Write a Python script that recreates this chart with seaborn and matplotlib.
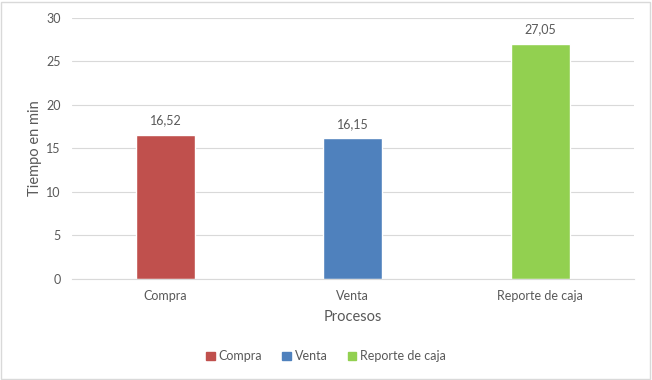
import pandas as pd
import matplotlib.pyplot as plt
import seaborn as sns
from matplotlib.patches import Rectangle

# data
procesos = ['Compra', 'Venta', 'Reporte de caja']
tiempos = [16.52, 16.15, 27.05]
colores = ['#C0504D', '#4F81BD', '#92D050']
y_ticks = [0, 5, 10, 15, 20, 25, 30]

df = pd.DataFrame({'Procesos': procesos, 'Tiempo': tiempos})

sns.set_style('white')
plt.rcParams['font.family'] = ['Lato', 'DejaVu Sans']
gris = '#595959'

fig = plt.figure(figsize=(6.52, 3.8), dpi=100)
ax = fig.add_axes([0.110, 0.266, 0.862, 0.687])

sns.barplot(data=df, x='Procesos', y='Tiempo', hue='Procesos',
            palette=colores, saturation=1, width=0.315, dodge=False,
            legend=False, ax=ax)

# labels on top of bars, comma decimal
for i, v in enumerate(tiempos):
    ax.text(i, v + 1.0, f'{v:.2f}'.replace('.', ','), ha='center', va='bottom',
            fontsize=9, color=gris)

ax.set_ylim(0, 30)
ax.set_yticks(y_ticks)
ax.grid(axis='y', color='#D9D9D9', linewidth=0.8)
ax.set_axisbelow(True)
for s in ['top', 'right', 'left']:
    ax.spines[s].set_visible(False)
ax.spines['bottom'].set_color('#D9D9D9')
ax.tick_params(axis='both', length=0, labelsize=9, labelcolor=gris, pad=8)
ax.set_xlabel('Procesos', fontsize=10.5, color=gris, labelpad=6)
ax.set_ylabel('Tiempo en min', fontsize=10.5, color=gris, labelpad=3)

handles = [Rectangle((0, 0), 1, 1, color=c) for c in colores]
fig.legend(handles, procesos, loc='center', bbox_to_anchor=(0.5, 0.062), ncol=3,
           frameon=False, fontsize=9, handlelength=0.7, handleheight=0.7,
           handletextpad=0.3, columnspacing=1.6, labelcolor=gris)

fig.patches.append(Rectangle((0.002, 0.003), 0.995, 0.993, transform=fig.transFigure,
                             fill=False, edgecolor='#D9D9D9', linewidth=1))

fig.savefig('out.png', dpi=100)
